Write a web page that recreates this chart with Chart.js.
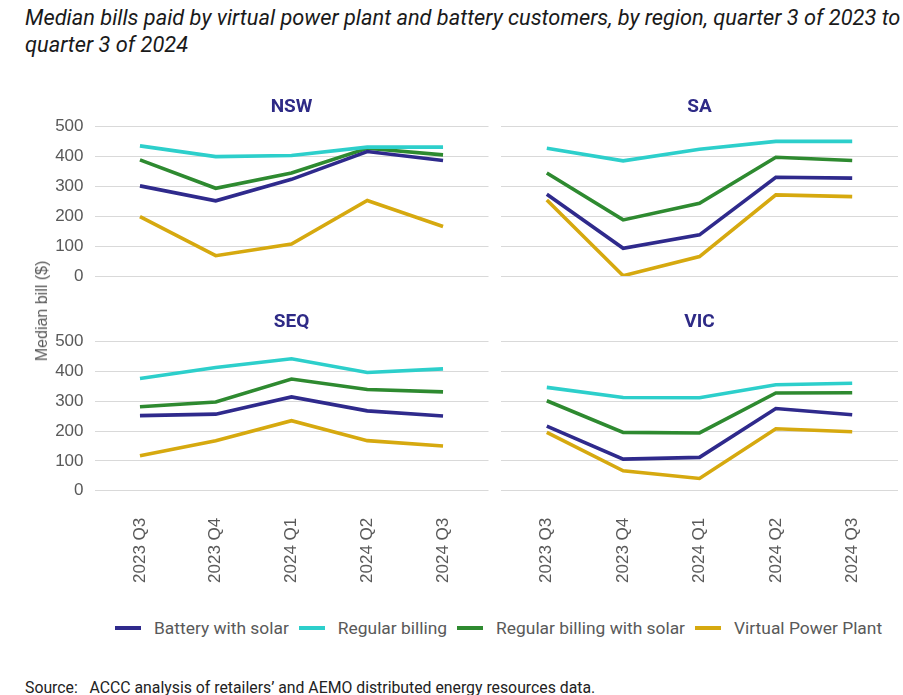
<!DOCTYPE html>
<html lang="en">
<head>
    <meta charset="UTF-8">
    <title>Median bills by region</title>
    <script src="https://cdn.jsdelivr.net/npm/chart.js"></script>
    <style>
        body {
            margin: 0;
            width: 903px;
            height: 695px;
            background: #ffffff;
            position: relative;
            overflow: hidden;
            font-family: Roboto, "Liberation Sans", Arial, sans-serif;
        }
        #title {
            position: absolute;
            left: 25px;
            top: 5px;
            font-style: italic;
            font-size: 21.8px;
            line-height: 26.5px;
            color: #1a1a1a;
            white-space: nowrap;
        }
        canvas {
            position: absolute;
        }
        #ytitle {
            position: absolute;
            left: 42px;
            top: 311px;
            transform: translate(-50%, -50%) rotate(-90deg);
            font-family: "Liberation Sans", Arial, sans-serif;
            font-size: 16px;
            color: #595959;
            white-space: nowrap;
        }
        #legend {
            position: absolute;
            left: 115px;
            top: 617px;
            height: 22px;
            display: flex;
            align-items: center;
            font-size: 17.4px;
            color: #595959;
            white-space: nowrap;
        }
        .item {
            display: flex;
            align-items: center;
            margin-right: 10px;
        }
        .swatch {
            width: 26px;
            height: 4px;
            margin-right: 13px;
        }
        #source {
            position: absolute;
            left: 25px;
            top: 678px;
            font-size: 15.8px;
            color: #222222;
            white-space: pre;
        }
    </style>
</head>
<body>
    <div id="title">Median bills paid by virtual power plant and battery customers, by region, quarter 3 of 2023 to<br>quarter 3 of 2024</div>

    <canvas id="nsw" width="495" height="200" style="left:0px;top:90px"></canvas>
    <canvas id="sa" width="408" height="200" style="left:495px;top:90px"></canvas>
    <canvas id="seq" width="495" height="300" style="left:0px;top:305px"></canvas>
    <canvas id="vic" width="408" height="300" style="left:495px;top:305px"></canvas>

    <div id="ytitle">Median bill ($)</div>
    <div id="legend"></div>
    <div id="source">Source:   ACCC analysis of retailers’ and AEMO distributed energy resources data.</div>

    <script>
        const quarters = ['2023 Q3', '2023 Q4', '2024 Q1', '2024 Q2', '2024 Q3'];
        const seriesNames = ['Battery with solar', 'Regular billing', 'Regular billing with solar', 'Virtual Power Plant'];
        const seriesColors = ['#2f2a8c', '#2dcfcb', '#2e8a30', '#d6a90f'];
        const yTicks = [0, 100, 200, 300, 400, 500];

        // NSW
        const nswBattery = [302, 252, 324, 417, 387];
        const nswRegular = [436, 400, 404, 432, 432];
        const nswRegularSolar = [389, 294, 345, 428, 406];
        const nswVpp = [199, 68, 107, 253, 166];
        // SA
        const saBattery = [274, 93, 138, 331, 328];
        const saRegular = [428, 386, 425, 451, 451];
        const saRegularSolar = [345, 188, 244, 398, 387];
        const saVpp = [255, 1, 65, 272, 266];
        // SEQ
        const seqBattery = [252, 257, 315, 268, 251];
        const seqRegular = [377, 414, 443, 397, 409];
        const seqRegularSolar = [282, 298, 375, 340, 332];
        const seqVpp = [117, 168, 235, 168, 150];
        // VIC
        const vicBattery = [217, 106, 112, 276, 255];
        const vicRegular = [347, 313, 312, 356, 361];
        const vicRegularSolar = [302, 196, 194, 328, 329];
        const vicVpp = [196, 67, 41, 208, 198];

        const tickFont = { family: '"Liberation Sans", Arial, sans-serif', size: 17 };

        function makePanel(id, region, series, showY, showX) {
            const ctx = document.getElementById(id).getContext('2d');
            const datasets = series.map((values, s) => ({
                label: seriesNames[s],
                data: values.map((v, i) => ({ x: i, y: v })),
                borderColor: seriesColors[s],
                backgroundColor: seriesColors[s],
                borderWidth: 3.6,
                pointRadius: 0,
                tension: 0,
                fill: false
            }));

            new Chart(ctx, {
                type: 'line',
                data: { datasets: datasets },
                options: {
                    responsive: false,
                    animation: false,
                    devicePixelRatio: 1,
                    layout: {
                        padding: { left: 0, right: showY ? 6.5 : 5, top: 0, bottom: showX ? 0 : 14 }
                    },
                    plugins: {
                        legend: { display: false },
                        tooltip: { enabled: false },
                        title: {
                            display: true,
                            text: region,
                            fullSize: false,
                            color: '#2e2a86',
                            font: { family: 'Roboto, Arial, sans-serif', size: 19, weight: 'bold' },
                            padding: { top: 6, bottom: 8 }
                        }
                    },
                    scales: {
                        x: {
                            type: 'linear',
                            display: showX,
                            min: -0.6,
                            max: 4.6,
                            grid: { display: false, drawTicks: false },
                            border: { display: false },
                            afterBuildTicks: (axis) => {
                                axis.ticks = quarters.map((q, i) => ({ value: i }));
                            },
                            afterFit: (axis) => { axis.height = showX ? 114.3 : 0; },
                            ticks: {
                                autoSkip: false,
                                minRotation: 90,
                                maxRotation: 90,
                                padding: 27,
                                color: '#595959',
                                font: tickFont,
                                callback: (v) => quarters[v]
                            }
                        },
                        y: {
                            min: 0,
                            max: 500,
                            afterBuildTicks: (axis) => {
                                axis.ticks = yTicks.map(v => ({ value: v }));
                            },
                            afterFit: (axis) => {
                                axis.width = showY ? 94.5 : 6;
                                axis.paddingTop = 0;
                                axis.paddingBottom = 0;
                            },
                            grid: { color: '#d9d9d9', lineWidth: 1, drawTicks: false },
                            border: { display: false },
                            ticks: {
                                display: showY,
                                padding: 11,
                                color: '#595959',
                                font: tickFont
                            }
                        }
                    }
                }
            });
        }

        makePanel('nsw', 'NSW', [nswBattery, nswRegular, nswRegularSolar, nswVpp], true, false);
        makePanel('sa', 'SA', [saBattery, saRegular, saRegularSolar, saVpp], false, false);
        makePanel('seq', 'SEQ', [seqBattery, seqRegular, seqRegularSolar, seqVpp], true, true);
        makePanel('vic', 'VIC', [vicBattery, vicRegular, vicRegularSolar, vicVpp], false, true);

        // Legend shared by all four panels
        const legend = document.getElementById('legend');
        seriesNames.forEach((name, s) => {
            const item = document.createElement('div');
            item.className = 'item';
            const sw = document.createElement('span');
            sw.className = 'swatch';
            sw.style.background = seriesColors[s];
            const txt = document.createElement('span');
            txt.textContent = name;
            item.appendChild(sw);
            item.appendChild(txt);
            legend.appendChild(item);
        });
    </script>
</body>
</html>
